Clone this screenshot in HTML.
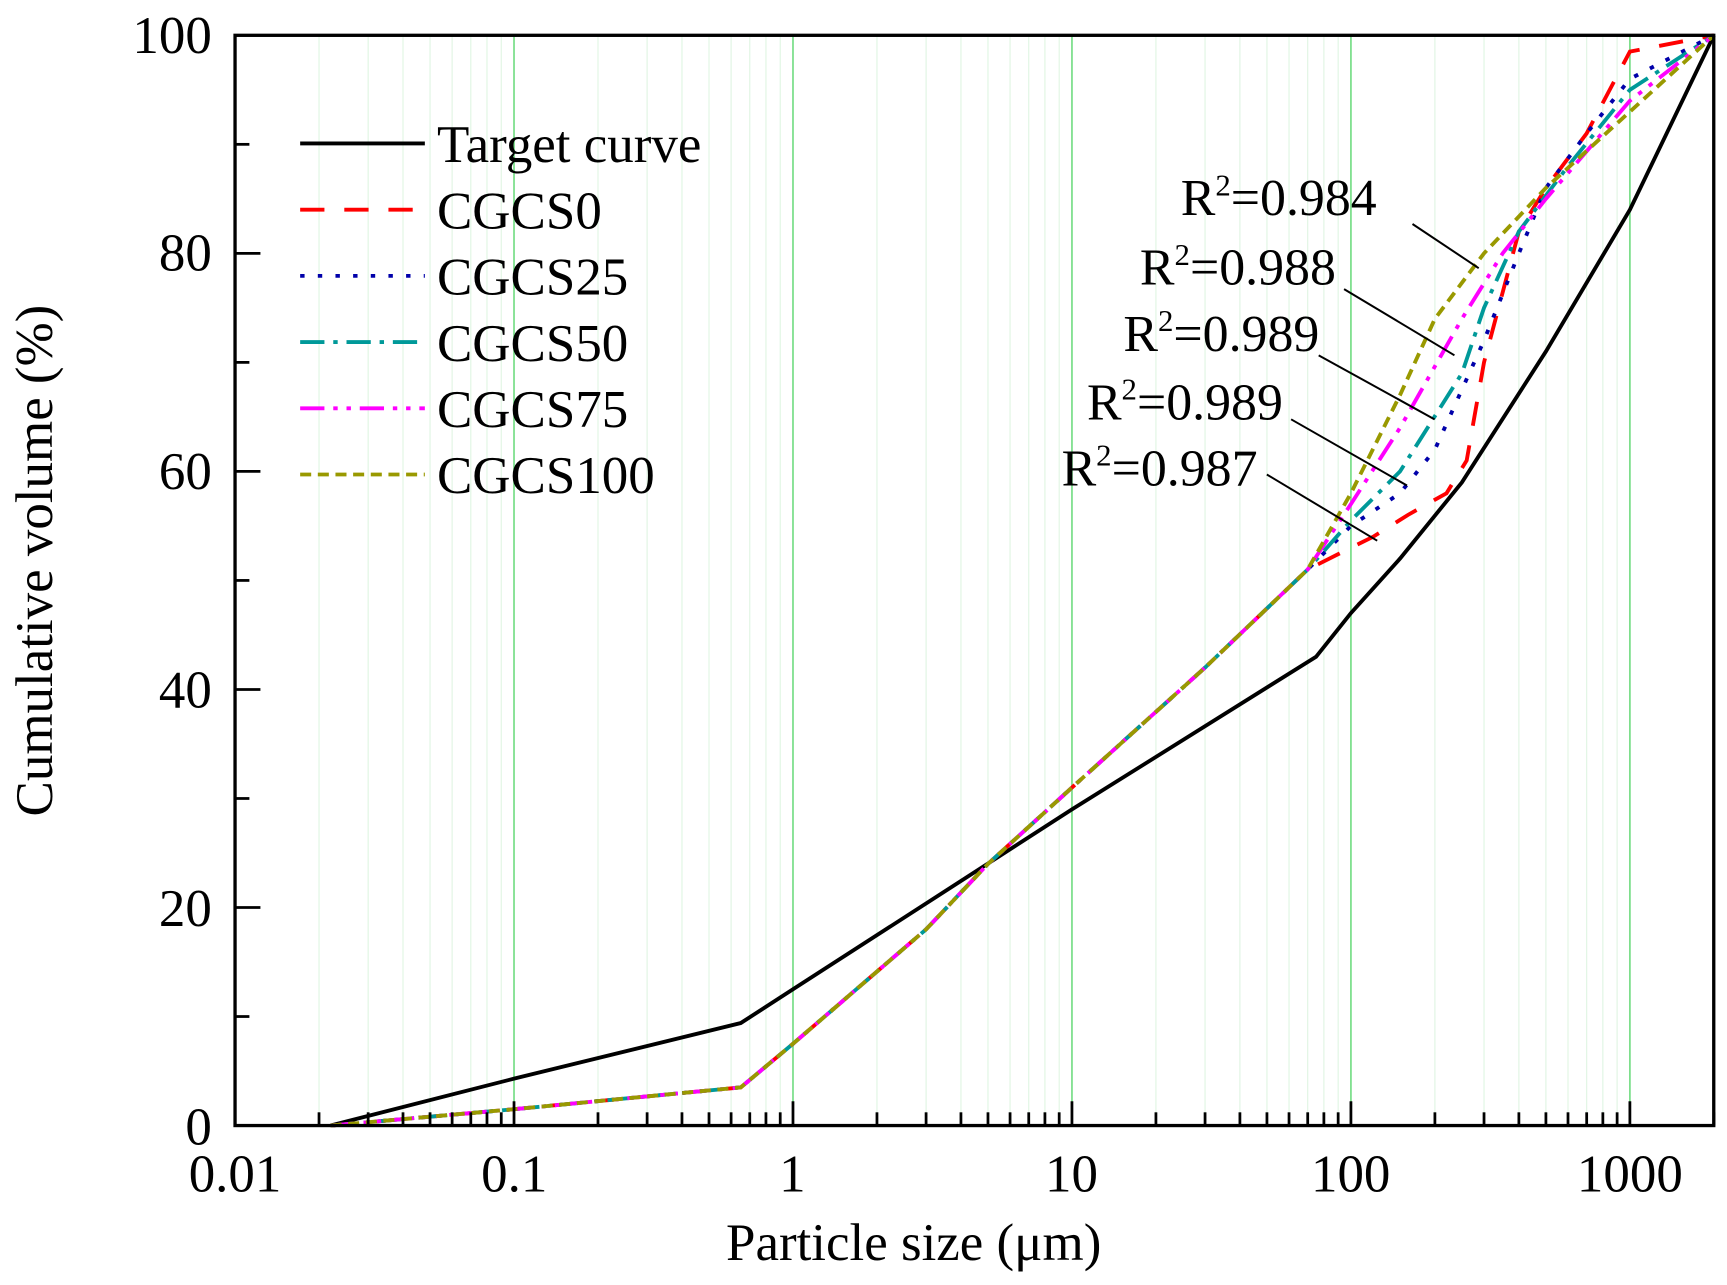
<!DOCTYPE html>
<html><head><meta charset="utf-8"><style>html,body{margin:0;padding:0;background:#fff}svg{display:block}</style></head>
<body>
<svg id="s" width="1727" height="1285" viewBox="0 0 1565 1164.5" preserveAspectRatio="none" xmlns="http://www.w3.org/2000/svg" font-family="Liberation Serif, serif">
<g id="grid"></g>
<g id="curves" fill="none" stroke-width="3.5"></g>
<rect x="213" y="32" width="1340" height="988" fill="none" stroke="#000" stroke-width="3"/>
<g id="ticks" stroke="#000" stroke-width="2.5"></g>
<g font-size="48" text-anchor="end">
<text x="192" y="1037">0</text><text x="192" y="839">20</text><text x="192" y="641">40</text><text x="192" y="443">60</text><text x="192" y="245">80</text><text x="192" y="48">100</text>
</g>
<g font-size="48" text-anchor="middle">
<text x="213" y="1080">0.01</text><text x="466" y="1080">0.1</text><text x="718" y="1080">1</text><text x="971" y="1080">10</text><text x="1224" y="1080">100</text><text x="1477" y="1080">1000</text>
<text x="828" y="1142">Particle size (μm)</text>
<text transform="translate(47,508) rotate(-90)">Cumulative volume (%)</text>
</g>
<g stroke-width="3.5">
<line x1="272" y1="130" x2="385" y2="130" stroke="#000"/>
<line x1="272" y1="190" x2="385" y2="190" stroke="#f00" stroke-dasharray="22,18"/>
<line x1="272" y1="250" x2="385" y2="250" stroke="#00a" stroke-dasharray="4,12"/>
<line x1="272" y1="310" x2="385" y2="310" stroke="#099" stroke-dasharray="22,8,4,8"/>
<line x1="272" y1="370" x2="385" y2="370" stroke="#f0f" stroke-dasharray="22,8,4,8,4,8"/>
<line x1="272" y1="430" x2="385" y2="430" stroke="#990" stroke-dasharray="10,6"/>
</g>
<g font-size="48">
<text x="396" y="147">Target curve</text><text x="396" y="207">CGCS0</text><text x="396" y="267">CGCS25</text><text x="396" y="327">CGCS50</text><text x="396" y="387">CGCS75</text><text x="396" y="447">CGCS100</text>
</g>
<g font-size="47">
<text x="1070" y="195">R<tspan font-size="28" dy="-18">2</tspan><tspan dy="18">=0.984</tspan></text>
<text x="1033" y="258">R<tspan font-size="28" dy="-18">2</tspan><tspan dy="18">=0.988</tspan></text>
<text x="1018" y="318">R<tspan font-size="28" dy="-18">2</tspan><tspan dy="18">=0.989</tspan></text>
<text x="985" y="380">R<tspan font-size="28" dy="-18">2</tspan><tspan dy="18">=0.989</tspan></text>
<text x="962" y="440">R<tspan font-size="28" dy="-18">2</tspan><tspan dy="18">=0.987</tspan></text>
</g>
<g stroke="#000" stroke-width="1.8">
<line x1="1280" y1="203" x2="1340" y2="243"/>
<line x1="1218" y1="262" x2="1318" y2="322"/>
<line x1="1195" y1="322" x2="1300" y2="380"/>
<line x1="1170" y1="380" x2="1275" y2="440"/>
<line x1="1148" y1="430" x2="1248" y2="490"/>
</g>
</svg>
<script>
var NS="http://www.w3.org/2000/svg";
function X(v){return 213+(Math.log10(v)+2)*252.8}
function Y(v){return 1020-v*9.88}
function el(p,t,a){var e=document.createElementNS(NS,t);for(var k in a)e.setAttribute(k,a[k]);p.appendChild(e);return e}
var g=document.getElementById('grid'),tk=document.getElementById('ticks');
for(var d=-2;d<=3;d++){for(var m=1;m<=9;m++){var v=m*Math.pow(10,d);if(v>2000)break;var x=X(v);
 if(m==1){if(d>-2)el(g,'line',{x1:x,y1:32,x2:x,y2:1020,stroke:'#7ddf8c','stroke-width':1.6});if(d>-2)el(tk,'line',{x1:x,y1:1020,x2:x,y2:998});}
 else{el(g,'line',{x1:x,y1:32,x2:x,y2:1020,stroke:'#dff5e2','stroke-width':1});el(tk,'line',{x1:x,y1:1020,x2:x,y2:1008});}}}
for(var yv=10;yv<100;yv+=10){var y=Y(yv);el(tk,'line',{x1:213,y1:y,x2:yv%20==0?236:226,y2:y});}
var base=[[0.022,0],[0.1,1.5],[0.65,3.5],[1,7.5],[3,18],[5,24],[10,31],[30,42],[70,51]];
var series=[
['#000','',[[0.022,0],[0.1,4.3],[0.65,9.4],[1,12.5],[10,29],[75,43],[100,47],[150,52],[250,59],[500,71],[1000,84],[2000,100]]],
['#f00','22,18',base.concat([[100,53],[120,54],[160,56],[220,58],[260,61],[300,70],[400,82],[500,86],[700,91],[1000,98.5],[2000,100]])],
['#00a','4,12',base.concat([[100,55],[150,58],[200,62],[300,72],[400,80],[500,86],[700,91],[1000,96],[2000,100]])],
['#099','22,8,4,8',base.concat([[100,55.5],[150,60],[250,69],[300,75],[400,82],[600,88],[1000,95],[2000,100]])],
['#f0f','22,8,4,8,4,8',base.concat([[100,57],[150,64],[250,74],[350,80],[500,85],[1000,94],[2000,100]])],
['#990','10,6',base.concat([[100,58],[150,67],[200,74],[300,80],[500,86],[1000,93],[2000,100]])]];
var c=document.getElementById('curves');
series.forEach(function(s){var d=s[2].map(function(p,i){return (i?'L':'M')+X(p[0]).toFixed(1)+','+Y(p[1]).toFixed(1)}).join('');
 var a={d:d,stroke:s[0]};if(s[1])a['stroke-dasharray']=s[1];el(c,'path',a);});
</script>
</body></html>
